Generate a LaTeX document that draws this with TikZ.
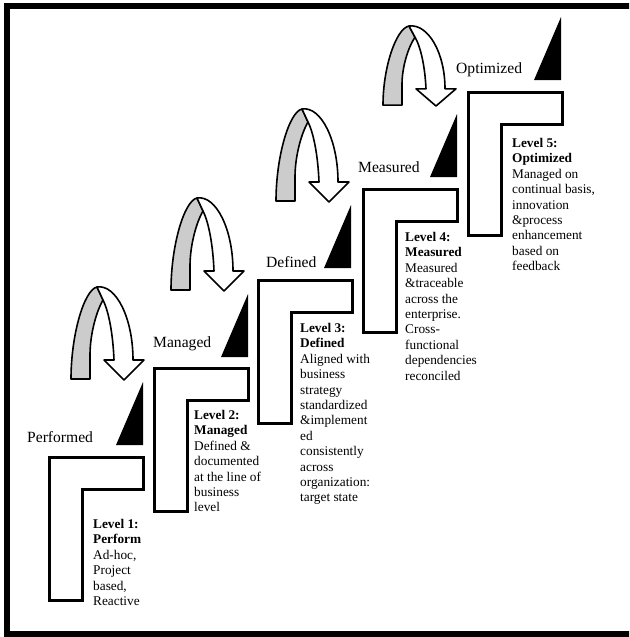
\documentclass[tikz,border=0pt]{standalone}
\usepackage{fontspec}
\setmainfont{Liberation Serif}

\tikzset{
  stair/.style={draw=black, line width=3pt, fill=white, line join=miter},
  turn/.style={draw=black, line width=1.6pt, fill=white, line join=round},
  stage/.style={font=\fontsize{15.6}{18}\selectfont, anchor=base west},
  desc/.style={font=\fontsize{13.3}{15.4}\selectfont, anchor=north west, align=left},
}

\begin{document}
\begin{tikzpicture}[x=1pt, y=-1pt, every node/.style={inner sep=0pt}]
  \useasboundingbox (0,0) rectangle (629,637);
  \clip (0,0) rectangle (629,637);
  % frame (right side runs off the page)
  \draw[line width=6pt] (650,6) -- (7,6) -- (7,634) -- (650,634);
  % the five steps
  \foreach \x/\y in {49/457, 154/368, 258/280, 363/189, 468/92}
    \draw[stair] (\x,\y) -- ++(94,0) -- ++(0,32) -- ++(-61,0) -- ++(0,111) -- ++(-33,0) -- cycle;
  % black wedges
  \foreach \x/\y in {143/445, 248/357, 351/268, 457/177, 561/80}
    \fill (\x,\y) -- ++(0,-63) -- ++(-27,63) -- cycle;
  % u-turn arrows, grey back face on the left
  \foreach \x/\y/\s in {124/380/1, 224/291/1, 329/202/1, 436/106/0.86}
  {
    \begin{scope}[shift={(\x,\y)}, yscale=\s]
      \draw[turn, fill=gray!40] (-53,-1) .. controls (-53,-45) and (-40,-90) .. (-27,-93)
        -- (-21,-80) .. controls (-28,-68) and (-34,-45) .. (-34,-25) -- (-34,-1) -- cycle;
      \draw[turn] (-27,-93) .. controls (-8,-96) and (9,-62) .. (9,-20)
        -- (20,-20) -- (0,0) -- (-20,-20) -- (-10,-20)
        .. controls (-11,-45) and (-15,-68) .. (-21,-80) -- cycle;
    \end{scope}
  }
  % stage names
  \node[stage] (performed) at (27,442) {Performed};
  \node[stage] (managed) at (153,347) {Managed};
  \node[stage] (defined) at (266,267) {Defined};
  \node[stage] (measured) at (358,172) {Measured};
  \node[stage] (optimized) at (456,73) {Optimized};
  % level descriptions
  \node[desc] (lvl1) at (93,519) {\textbf{Level 1:}\\ \textbf{Perform}\\ Ad-hoc,\\ Project\\ based,\\ Reactive};
  \node[desc] (lvl2) at (194,410) {\textbf{Level 2:}\\ \textbf{Managed}\\ Defined \&\\ documented\\ at the line of\\ business\\ level};
  \node[desc] (lvl3) at (300,323) {\textbf{Level 3:}\\ \textbf{Defined}\\ Aligned with\\ business\\ strategy\\ standardized\\ \&implement\\ ed\\ consistently\\ across\\ organization:\\ target state};
  \node[desc] (lvl4) at (405,232) {\textbf{Level 4:}\\ \textbf{Measured}\\ Measured\\ \&traceable\\ across the\\ enterprise.\\ Cross-\\ functional\\ dependencies\\ reconciled};
  \node[desc] (lvl5) at (512,138) {\textbf{Level 5:}\\ \textbf{Optimized}\\ Managed on\\ continual basis,\\ innovation\\ \&process\\ enhancement\\ based on\\ feedback};
\end{tikzpicture}
\end{document}
